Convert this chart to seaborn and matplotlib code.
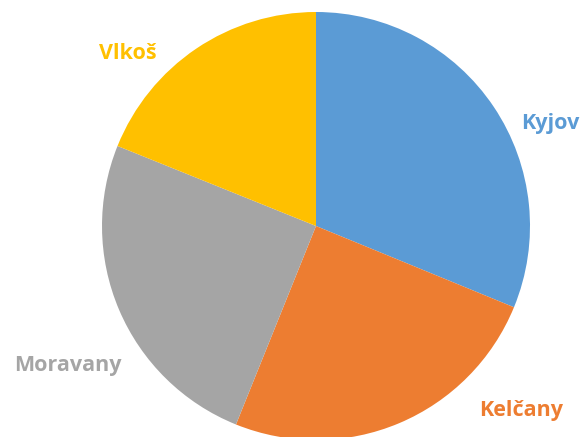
import matplotlib
matplotlib.use("Agg")
import matplotlib.pyplot as plt
import seaborn as sns

obce = ["Kyjov", "Kelčany", "Moravany", "Vlkoš"]
podil = [31.2, 24.9, 25.0, 18.9]
barvy = ["#5B9BD5", "#ED7D31", "#A5A5A5", "#FFC000"]

sns.set_style("white")
plt.rcParams['font.family'] = ['Open Sans', 'DejaVu Sans']

fig = plt.figure(figsize=(5.84, 4.37), dpi=100)
W, H = 584, 437
cx, cy, r = 316, 226, 214
ax = fig.add_axes([(cx - r) / W, (H - cy - r) / H, 2 * r / W, 2 * r / H])

wedges, _ = ax.pie(podil, colors=barvy, startangle=90, counterclock=False,
                   radius=1, wedgeprops=dict(linewidth=0))
ax.set_xlim(-1, 1)
ax.set_ylim(-1, 1)
ax.set_aspect("equal")
ax.axis("off")

# label placement (relative to pie centre, in radius units)
label_pos = [(1.093, 0.481), (0.958, -0.860), (-1.159, -0.650), (-0.879, 0.804)]
for name, col, (x, y) in zip(obce, barvy, label_pos):
    ax.text(x, y, name, color=col, fontsize=15.5, fontweight="bold",
            ha="center", va="center", clip_on=False)

fig.savefig("out.png", dpi=100)
